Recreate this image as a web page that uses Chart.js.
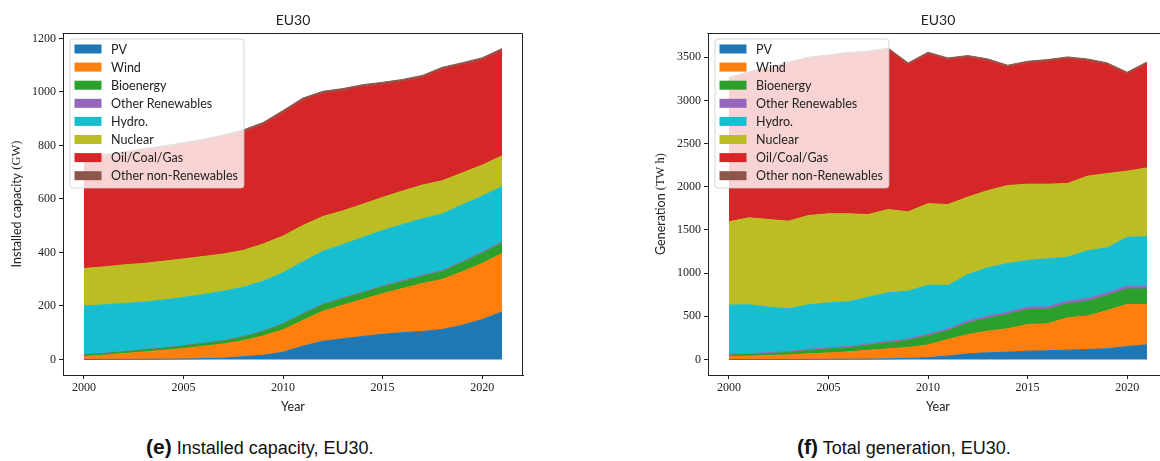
<!DOCTYPE html>
<html><head><meta charset="utf-8">
<script src="https://cdn.jsdelivr.net/npm/chart.js@4.4.1/dist/chart.umd.min.js"></script>
<style>
html,body{margin:0;padding:0;width:1160px;height:461px;overflow:hidden;background:#fff;}
#c1{position:absolute;left:0;top:0;}
#c2{position:absolute;left:620px;top:0;}
.cap{position:absolute;top:434px;font-family:'Liberation Sans',Arial,sans-serif;font-size:18px;line-height:26px;color:#111;white-space:nowrap;}
.cap b{font-size:21px;}
</style></head><body>
<canvas id="c1" width="560" height="420"></canvas>
<canvas id="c2" width="560" height="420"></canvas>
<div class="cap" style="left:146px"><b>(e)</b> Installed capacity, EU30.</div>
<div class="cap" style="left:797px"><b>(f)</b> Total generation, EU30.</div>
<script>
// ---------- data ----------
const years = [2000,2001,2002,2003,2004,2005,2006,2007,2008,2009,2010,2011,2012,2013,2014,2015,2016,2017,2018,2019,2020,2021];
const seriesNames = ['PV','Wind','Bioenergy','Other Renewables','Hydro.','Nuclear','Oil/Coal/Gas','Other non-Renewables'];
const xTicks = [2000,2005,2010,2015,2020];

// Installed capacity (GW)
const capPV      = [0.2,0.3,0.4,0.6,1,2,3,5,10,16,27,50,68,77,86,94,100,105,112,128,149,178];
const capWind    = [10.8,15.7,21.6,27.4,33,39,46,53,60,72,84,96,112,126,138,152,165,179,187,200,210,218];
const capBio     = [6,6,6.5,7,8,9.5,10.5,11.5,14,16.5,22,23.5,24.5,24.5,25,25.5,26,27,30,34,38,39.5];
const capOthRen  = [1,1,1,1,1.2,1.3,1.4,1.5,1.7,2,2.2,2.4,2.6,2.8,3,3.2,3.4,3.6,3.8,4,4.2,4.5];
const capHydro   = [182,181,180,178,179,180,182,184,184,186,189,193,197,199,204,207,210,211,211,212,209,206];
const capNuclear = [140,142,144,145,145,144,142,139,138,139,137,136,130,126,124,124,125,126,124,119,116,115];
const capFossil  = [407,411,414,420,423,426,430,436,442,446,461,468,460,449,439,422,409,402,416,404,393,393];
const capOthNon  = [8,8,8,8,8,8,8,8,8,8,8,8,8,8,8,8,8,8,8,8,8,8];
const capYTicks  = [0,200,400,600,800,1000,1200];

// Total generation (TWh)
const genPV      = [0.1,0.2,0.3,0.5,1,1.5,2.5,4,7,12,20,39,66,77,85,96,100,108,116,123,150,170];
const genWind    = [30.9,36.8,44.7,51.5,64,74.5,85.5,102,115,126,148,192,223,251,270,309,313,374,386,444,487,467];
const genBio     = [19,19,24,29,38,46,48,59,72,83,105,103,132,149,167,173,168,163,173,173,179,179];
const genOthRen  = [10,10,11,11,12,13,14,15,16,17,19,21,23,25,26,28,29,30,31,32,33,33];
const genHydro   = [569,567,526,494,518,521,517,541,562,553,568,501,540,559,563,540,555,509,552,520,567,571];
const genNuclear = [964,1007,1014,1015,1034,1030,1019,957,964,918,944,938,896,894,903,884,865,853,864,861,764,798];
const genFossil  = [1650,1668,1738,1822,1811,1817,1847,1870,1847,1703,1731,1675,1617,1503,1371,1401,1420,1444,1336,1259,1124,1205];
const genOthNon  = [22,22,22,22,22,22,22,22,22,22,22,22,22,22,22,22,22,22,22,22,22,22];
const genYTicks  = [0,500,1000,1500,2000,2500,3000,3500];

const COLORS = ['#1f77b4','#ff7f0e','#2ca02c','#9467bd','#17becf','#bcbd22','#d62728','#8c564b'];
const SANS = "Lato, 'Open Sans', sans-serif";
const SERIF = "'Liberation Serif', 'DejaVu Serif', serif";
const INK = '#222';

const framePlugin = {
  id: 'frameAndLegend',
  afterDraw(chart, args, opts) {
    const ctx = chart.ctx, ca = chart.chartArea;
    ctx.save();
    // frame (top / right spines)
    ctx.strokeStyle = INK; ctx.lineWidth = 1;
    const L = Math.round(ca.left) - 0.5, T = Math.round(ca.top) + 0.5;
    const R = Math.round(ca.right) - 0.5, B = Math.round(ca.bottom) + 0.5;
    ctx.beginPath();
    ctx.moveTo(L, T); ctx.lineTo(R, T); ctx.lineTo(R, B);
    ctx.stroke();
    // title
    ctx.fillStyle = INK;
    ctx.font = "14px " + SANS;
    ctx.textAlign = 'center'; ctx.textBaseline = 'middle';
    ctx.fillText(opts.title, (ca.left + ca.right) / 2, 20);
    // y label (mixed fonts)
    ctx.save();
    ctx.translate(opts.yLabelX, (ca.top + ca.bottom) / 2);
    ctx.rotate(-Math.PI / 2);
    ctx.font = "12.5px " + SANS;
    const w1 = ctx.measureText(opts.yLabel).width;
    ctx.font = "12.5px " + SERIF;
    const w2 = ctx.measureText(opts.yUnit).width;
    let x0 = -(w1 + w2) / 2;
    ctx.textAlign = 'left';
    ctx.font = "12.5px " + SANS;
    ctx.fillText(opts.yLabel, x0, 0);
    ctx.font = "12.5px " + SERIF;
    ctx.fillText(opts.yUnit, x0 + w1, 0);
    ctx.restore();
    // legend
    ctx.font = "12.5px " + SANS;
    const ds = chart.data.datasets;
    let maxW = 0;
    ds.forEach(d => { maxW = Math.max(maxW, ctx.measureText(d.label).width); });
    const bx = ca.left + 7, by = ca.top + 6;
    const bw = 41 + maxW + 6, bh = 149;
    const r = 3;
    ctx.beginPath();
    ctx.moveTo(bx + r, by);
    ctx.lineTo(bx + bw - r, by); ctx.arcTo(bx + bw, by, bx + bw, by + r, r);
    ctx.lineTo(bx + bw, by + bh - r); ctx.arcTo(bx + bw, by + bh, bx + bw - r, by + bh, r);
    ctx.lineTo(bx + r, by + bh); ctx.arcTo(bx, by + bh, bx, by + bh - r, r);
    ctx.lineTo(bx, by + r); ctx.arcTo(bx, by, bx + r, by, r);
    ctx.closePath();
    ctx.fillStyle = 'rgba(255,255,255,0.8)';
    ctx.fill();
    ctx.strokeStyle = 'rgba(204,204,204,0.8)';
    ctx.lineWidth = 1;
    ctx.stroke();
    ds.forEach((d, i) => {
      const cy = by + 10 + 18.1 * i;
      ctx.fillStyle = d.backgroundColor;
      ctx.fillRect(bx + 4.5, cy - 4.5, 27, 9);
      ctx.fillStyle = INK;
      ctx.textAlign = 'left'; ctx.textBaseline = 'middle';
      ctx.fillText(d.label, bx + 41, cy + 0.5);
    });
    ctx.restore();
  }
};

function makeChart(id, series, cfg) {
  const datasets = series.map((vals, i) => ({
    label: seriesNames[i],
    data: years.map((y, k) => ({x: y, y: vals[k]})),
    backgroundColor: COLORS[i],
    borderColor: COLORS[i],
    borderWidth: 1,
    pointRadius: 0,
    tension: 0,
    fill: i === 0 ? 'origin' : '-1'
  }));
  return new Chart(document.getElementById(id), {
    type: 'line',
    data: { datasets },
    plugins: [framePlugin],
    options: {
      responsive: false, animation: false, devicePixelRatio: 1,
      layout: { padding: { left: 0, top: 33, right: cfg.padRight, bottom: 0 } },
      plugins: {
        legend: { display: false }, tooltip: { enabled: false }, title: { display: false },
        frameAndLegend: { title: 'EU30', yLabel: cfg.yLabel, yUnit: cfg.yUnit, yLabelX: cfg.yLabelX }
      },
      scales: {
        x: {
          type: 'linear', min: 1998.95, max: 2022.05,
          afterBuildTicks: s => { s.ticks = xTicks.map(v => ({ value: v })); },
          afterFit: s => { s.height = 45; },
          grid: { display: true, drawOnChartArea: false, drawTicks: true, tickLength: 4, color: INK, lineWidth: 1 },
          border: { display: true, color: INK, width: 1 },
          ticks: { font: { family: SERIF, size: 12 }, color: INK, padding: 2, maxRotation: 0, autoSkip: false, callback: v => String(v) },
          title: { display: true, text: 'Year', font: { family: SANS, size: 12.5 }, color: INK, padding: { top: 0, bottom: 6 } }
        },
        y: {
          type: 'linear', stacked: true, min: cfg.yMin, max: cfg.yMax,
          afterBuildTicks: s => { s.ticks = cfg.yTicks.map(v => ({ value: v })); },
          afterFit: s => { s.width = cfg.yWidth; },
          grid: { display: true, drawOnChartArea: false, drawTicks: true, tickLength: 4, color: INK, lineWidth: 1 },
          border: { display: true, color: INK, width: 1 },
          ticks: { font: { family: SERIF, size: 12 }, color: INK, padding: 3, autoSkip: false, callback: v => String(v) }
        }
      }
    }
  });
}

makeChart('c1',
  [capPV, capWind, capBio, capOthRen, capHydro, capNuclear, capFossil, capOthNon],
  { yMin: -58, yMax: 1220, yTicks: capYTicks, yWidth: 63, padRight: 37,
    yLabel: 'Installed capacity ', yUnit: '(GW)', yLabelX: 17 });

makeChart('c2',
  [genPV, genWind, genBio, genOthRen, genHydro, genNuclear, genFossil, genOthNon],
  { yMin: -180, yMax: 3780, yTicks: genYTicks, yWidth: 88, padRight: 12,
    yLabel: 'Generation ', yUnit: '(TW h)', yLabelX: 41 });
</script>
</body></html>
